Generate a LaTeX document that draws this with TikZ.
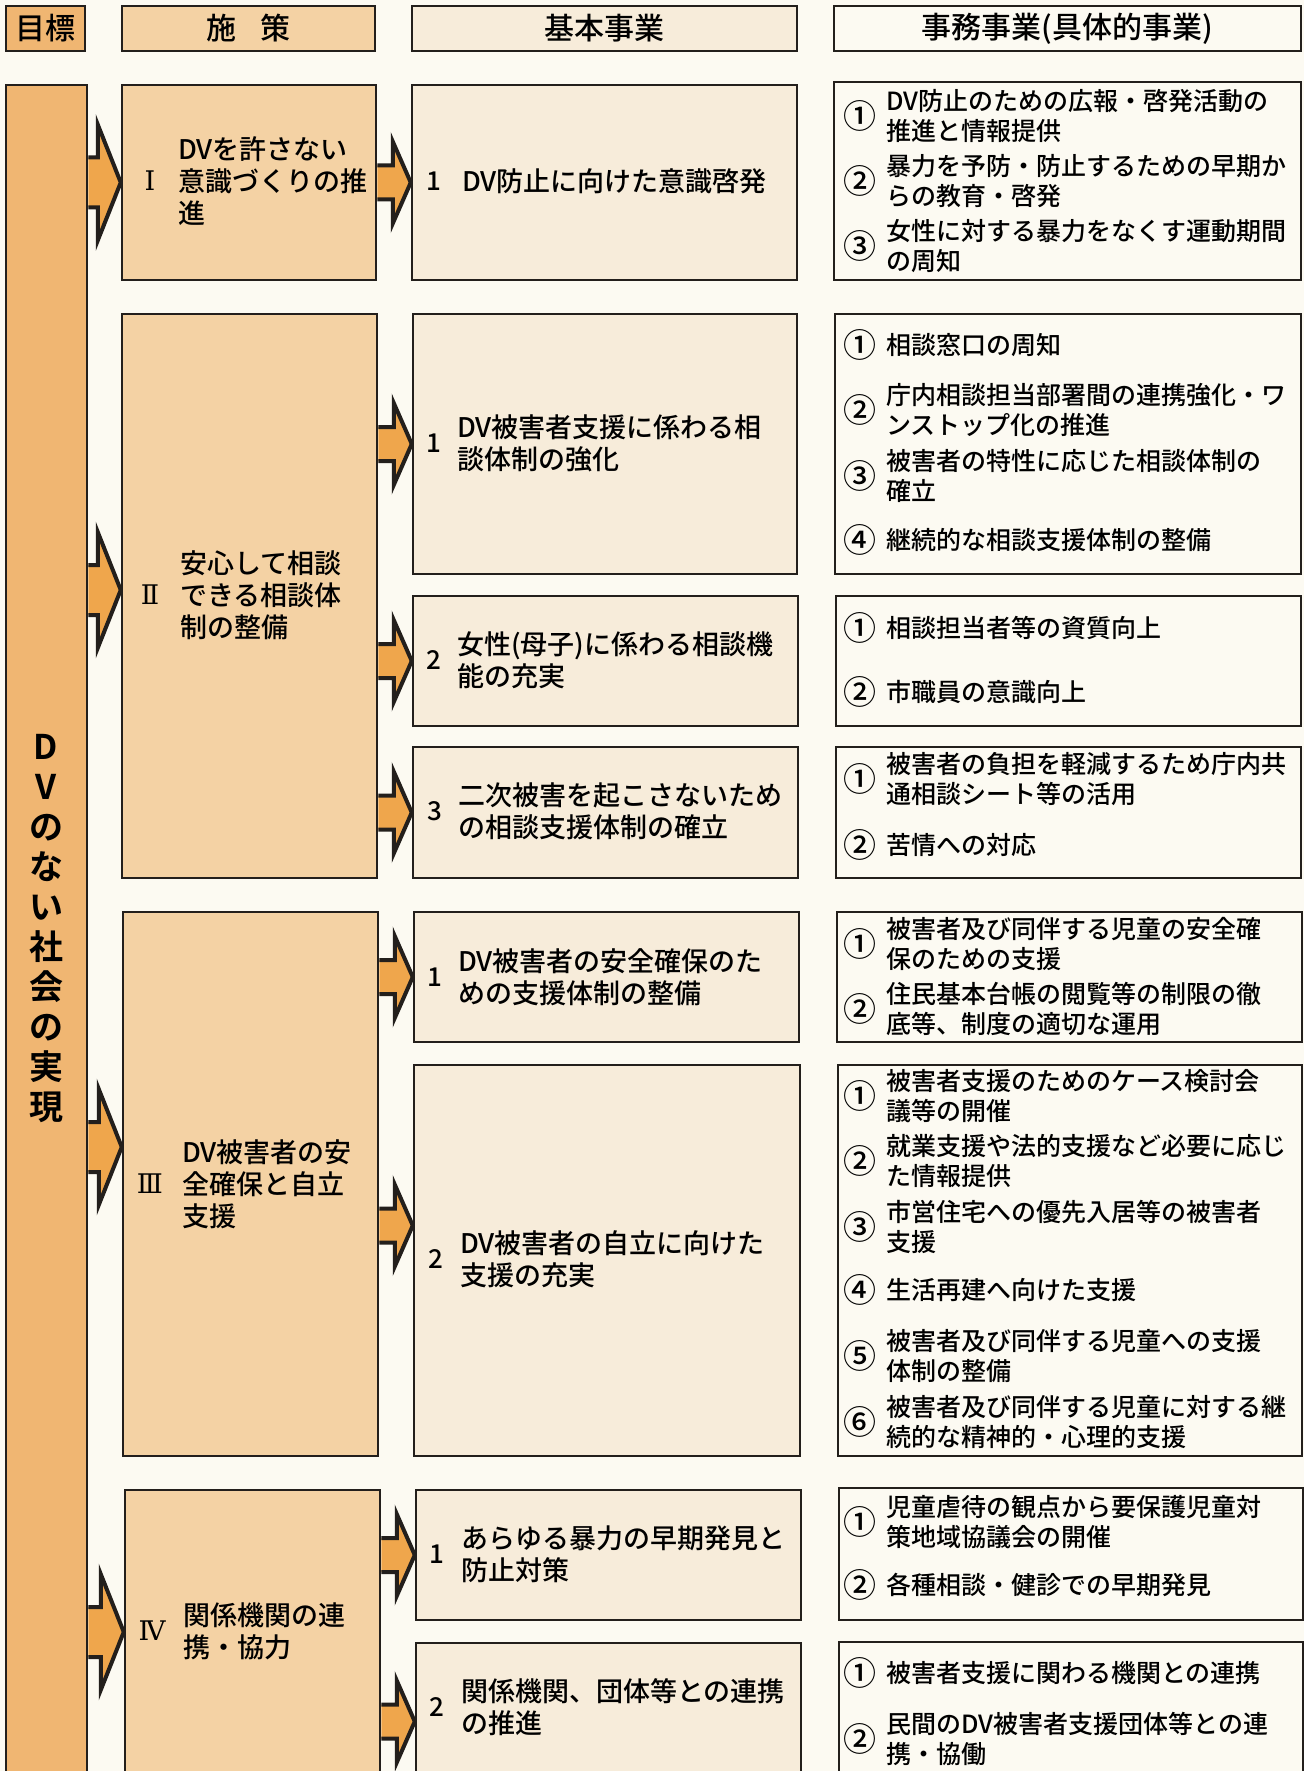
\documentclass[tikz,border=0pt]{standalone}
\usepackage{fontspec}
\setmainfont{Noto Sans CJK JP}[UprightFont={* Medium},BoldFont={* Bold}]
\newfontfamily\romanfont{DejaVu Serif}
\usepackage{tikz}
\usetikzlibrary{calc}

\definecolor{bgcream}{HTML}{FCFAF2}
\definecolor{goalorange}{HTML}{F0B672}
\definecolor{poltan}{HTML}{F4D2A4}
\definecolor{baslight}{HTML}{F7ECDA}
\definecolor{arrorange}{HTML}{EFA64C}
\definecolor{inkline}{HTML}{231F1C}

\tikzset{
	cellbox/.style={draw=inkline,line width=2.5pt,inner sep=0pt},
	goalbox/.style={cellbox,fill=goalorange},
	polbox/.style={cellbox,fill=poltan},
	basbox/.style={cellbox,fill=baslight},
	actbox/.style={cellbox,fill=bgcream},
	headtext/.style={font=\fontsize{30}{34}\selectfont},
	poltext/.style={anchor=west,align=left,inner sep=0pt,font=\fontsize{27}{32}\selectfont},
	acttext/.style={anchor=west,align=left,inner sep=0pt,font=\fontsize{25}{29.5}\selectfont},
	numtext/.style={inner sep=0pt,font=\fontsize{26}{30}\selectfont},
	romtext/.style={inner sep=0pt,font=\romanfont\fontsize{27}{30}\selectfont},
	circtext/.style={inner sep=0pt,font=\fontsize{33}{36}\selectfont},
	fatarr/.style={fill=arrorange,draw=inkline,line width=4pt,line join=miter},
}

% box from (x1,y1) to (x2,y2): name, style, x1, y1, x2, y2
\newcommand{\cell}[6]{\node[#2,minimum width=#5-#3,minimum height=#6-#4] (#1) at ({(#3+#5)/2},{(#4+#6)/2}) {};}
% block arrow: tail, tip, head length, half shaft, half head
\newcommand{\fatarrow}[5]{\filldraw[fatarr] ($(#1)+(0,-#4)$) -- ($(#2)+(-#3,-#4)$) -- ($(#2)+(-#3,-#5)$) -- (#2) -- ($(#2)+(-#3,#5)$) -- ($(#2)+(-#3,#4)$) -- ($(#1)+(0,#4)$);}

\begin{document}
\begin{tikzpicture}[x=1pt,y=-1pt]
	\clip (0,0) rectangle (1304,1771);
	\fill[bgcream] (0,0) rectangle (1304,1771);
	\def\actnum{860} %centre of the circled numbers
	\def\acttx{886} %left edge of the item texts
	
	%HEADERS
	\node[goalbox,headtext,minimum width=79,minimum height=45] (hgoal) at (45.5,28.5) {目標};
	\node[polbox,headtext,minimum width=253,minimum height=45] (hpol) at (248.5,28.5) {施\hspace{0.8em}策};
	\node[basbox,headtext,minimum width=385,minimum height=45] (hbas) at (604.5,28.5) {基本事業};
	\node[actbox,headtext,minimum width=467,minimum height=45] (hact) at (1067.5,28.5) {事務事業(具体的事業)};
	
	%GOAL
	\cell{goal}{goalbox}{6}{85}{87}{1800}
	\node[inner sep=0pt,align=center,font=\bfseries\fontsize{34}{40}\selectfont] (goaltext) at (46,929) {D\\V\\の\\な\\い\\社\\会\\の\\実\\現};
	
	%POLICIES
	\cell{pol1}{polbox}{122}{85}{376}{280}
	\cell{pol2}{polbox}{122}{314}{377}{878}
	\cell{pol3}{polbox}{123}{912}{378}{1456}
	\cell{pol4}{polbox}{125}{1490}{380}{1800}
	
	%BASIC PROJECTS
	\cell{bas11}{basbox}{412}{85}{797}{280}
	\cell{bas21}{basbox}{413}{314}{797}{574}
	\cell{bas22}{basbox}{413}{596}{798}{726}
	\cell{bas23}{basbox}{413}{747}{798}{878}
	\cell{bas31}{basbox}{414}{912}{799}{1042}
	\cell{bas32}{basbox}{414}{1065}{800}{1456}
	\cell{bas41}{basbox}{416}{1490}{801}{1620}
	\cell{bas42}{basbox}{416}{1643}{801}{1800}
	
	%ACTIVITIES
	\cell{act1}{actbox}{834}{82}{1301}{280}
	\cell{act2}{actbox}{835}{314}{1301}{574}
	\cell{act3}{actbox}{836}{596}{1301}{726}
	\cell{act4}{actbox}{836}{747}{1301}{878}
	\cell{act5}{actbox}{837}{912}{1302}{1042}
	\cell{act6}{actbox}{838}{1065}{1302}{1456}
	\cell{act7}{actbox}{839}{1488}{1303}{1620}
	\cell{act8}{actbox}{839}{1642}{1303}{1800}
	
	%ARROWS
	\coordinate (a1) at (pol1.west); \coordinate (a1s) at (goal.east |- a1);
	\coordinate (a2) at ($(pol2.west)+(0,-6)$); \coordinate (a2s) at (goal.east |- a2);
	\coordinate (a3) at ($(pol3.west)+(0,-37)$); \coordinate (a3s) at (goal.east |- a3);
	\coordinate (a4) at ($(pol4.west)+(0,-13)$); \coordinate (a4s) at (goal.east |- a4);
	\fatarrow{a1s}{a1}{23}{25}{58}
	\fatarrow{a2s}{a2}{23}{25}{58}
	\fatarrow{a3s}{a3}{23}{25}{58}
	\fatarrow{a4s}{a4}{23}{25}{58}
	%
	\coordinate (b32) at ($(bas32.west)+(0,-35)$); \coordinate (b32s) at (pol3.east |- b32);
	\coordinate (b11s) at (pol1.east |- bas11.west);
	\coordinate (b21s) at (pol2.east |- bas21.west);
	\coordinate (b22s) at (pol2.east |- bas22.west);
	\coordinate (b23s) at (pol2.east |- bas23.west);
	\coordinate (b31s) at (pol3.east |- bas31.west);
	\coordinate (b41s) at (pol4.east |- bas41.west);
	\coordinate (b42s) at (pol4.east |- bas42.west);
	\fatarrow{b11s}{bas11.west}{18}{17}{41}
	\fatarrow{b21s}{bas21.west}{18}{17}{41}
	\fatarrow{b22s}{bas22.west}{18}{17}{41}
	\fatarrow{b23s}{bas23.west}{18}{17}{41}
	\fatarrow{b31s}{bas31.west}{18}{17}{41}
	\fatarrow{b32s}{b32}{18}{17}{41}
	\fatarrow{b41s}{bas41.west}{18}{17}{41}
	\fatarrow{b42s}{bas42.west}{18}{17}{41}
	
	%POLICY LABELS
	\node[romtext] (pol1n) at (150,181) {Ⅰ};
	\node[poltext] (pol1t) at (178,181) {DVを許さない\\意識づくりの推\\進};
	\node[romtext] (pol2n) at (150,595) {Ⅱ};
	\node[poltext] (pol2t) at (180,595) {安心して相談\\できる相談体\\制の整備};
	\node[romtext] (pol3n) at (150,1184) {Ⅲ};
	\node[poltext] (pol3t) at (182,1184) {DV被害者の安\\全確保と自立\\支援};
	\node[romtext] (pol4n) at (152,1631) {Ⅳ};
	\node[poltext] (pol4t) at (183,1631) {関係機関の連\\携・協力};
	
	%BASIC PROJECT LABELS
	\node[numtext] (bas11n) at (434,181) {1};
	\node[poltext] (bas11t) at (462,181) {DV防止に向けた意識啓発};
	\node[numtext] (bas21n) at (434,443) {1};
	\node[poltext] (bas21t) at (457,443) {DV被害者支援に係わる相\\談体制の強化};
	\node[numtext] (bas22n) at (434,660) {2};
	\node[poltext] (bas22t) at (457,660) {女性(母子)に係わる相談機\\能の充実};
	\node[numtext] (bas23n) at (435,811) {3};
	\node[poltext] (bas23t) at (458,811) {二次被害を起こさないため\\の相談支援体制の確立};
	\node[numtext] (bas31n) at (435,977) {1};
	\node[poltext] (bas31t) at (458,977) {DV被害者の安全確保のた\\めの支援体制の整備};
	\node[numtext] (bas32n) at (436,1259) {2};
	\node[poltext] (bas32t) at (460,1259) {DV被害者の自立に向けた\\支援の充実};
	\node[numtext] (bas41n) at (437,1554) {1};
	\node[poltext] (bas41t) at (461,1554) {あらゆる暴力の早期発見と\\防止対策};
	\node[numtext] (bas42n) at (437,1707) {2};
	\node[poltext] (bas42t) at (461,1707) {関係機関、団体等との連携\\の推進};
	
	%ACTIVITY LABELS
	\node[circtext] (act1an) at (\actnum,116) {①};
	\node[acttext] (act1a) at (\acttx,116) {DV防止のための広報・啓発活動の\\推進と情報提供};
	\node[circtext] (act1bn) at (\actnum,181) {②};
	\node[acttext] (act1b) at (\acttx,181) {暴力を予防・防止するための早期か\\らの教育・啓発};
	\node[circtext] (act1cn) at (\actnum,246) {③};
	\node[acttext] (act1c) at (\acttx,246) {女性に対する暴力をなくす運動期間\\の周知};
	%
	\node[circtext] (act2an) at (\actnum,345) {①};
	\node[acttext] (act2a) at (\acttx,345) {相談窓口の周知};
	\node[circtext] (act2bn) at (\actnum,410) {②};
	\node[acttext] (act2b) at (\acttx,410) {庁内相談担当部署間の連携強化・ワ\\ンストップ化の推進};
	\node[circtext] (act2cn) at (\actnum,476) {③};
	\node[acttext] (act2c) at (\acttx,476) {被害者の特性に応じた相談体制の\\確立};
	\node[circtext] (act2dn) at (\actnum,540) {④};
	\node[acttext] (act2d) at (\acttx,540) {継続的な相談支援体制の整備};
	%
	\node[circtext] (act3an) at (\actnum,628) {①};
	\node[acttext] (act3a) at (\acttx,628) {相談担当者等の資質向上};
	\node[circtext] (act3bn) at (\actnum,692) {②};
	\node[acttext] (act3b) at (\acttx,692) {市職員の意識向上};
	%
	\node[circtext] (act4an) at (\actnum,779) {①};
	\node[acttext] (act4a) at (\acttx,779) {被害者の負担を軽減するため庁内共\\通相談シート等の活用};
	\node[circtext] (act4bn) at (\actnum,845) {②};
	\node[acttext] (act4b) at (\acttx,845) {苦情への対応};
	%
	\node[circtext] (act5an) at (\actnum,944) {①};
	\node[acttext] (act5a) at (\acttx,944) {被害者及び同伴する児童の安全確\\保のための支援};
	\node[circtext] (act5bn) at (\actnum,1009) {②};
	\node[acttext] (act5b) at (\acttx,1009) {住民基本台帳の閲覧等の制限の徹\\底等、制度の適切な運用};
	%
	\node[circtext] (act6an) at (\actnum,1096) {①};
	\node[acttext] (act6a) at (\acttx,1096) {被害者支援のためのケース検討会\\議等の開催};
	\node[circtext] (act6bn) at (\actnum,1161) {②};
	\node[acttext] (act6b) at (\acttx,1161) {就業支援や法的支援など必要に応じ\\た情報提供};
	\node[circtext] (act6cn) at (\actnum,1227) {③};
	\node[acttext] (act6c) at (\acttx,1227) {市営住宅への優先入居等の被害者\\支援};
	\node[circtext] (act6dn) at (\actnum,1290) {④};
	\node[acttext] (act6d) at (\acttx,1290) {生活再建へ向けた支援};
	\node[circtext] (act6en) at (\actnum,1356) {⑤};
	\node[acttext] (act6e) at (\acttx,1356) {被害者及び同伴する児童への支援\\体制の整備};
	\node[circtext] (act6fn) at (\actnum,1422) {⑥};
	\node[acttext] (act6f) at (\acttx,1422) {被害者及び同伴する児童に対する継\\続的な精神的・心理的支援};
	%
	\node[circtext] (act7an) at (\actnum,1522) {①};
	\node[acttext] (act7a) at (\acttx,1522) {児童虐待の観点から要保護児童対\\策地域協議会の開催};
	\node[circtext] (act7bn) at (\actnum,1585) {②};
	\node[acttext] (act7b) at (\acttx,1585) {各種相談・健診での早期発見};
	%
	\node[circtext] (act8an) at (\actnum,1673) {①};
	\node[acttext] (act8a) at (\acttx,1673) {被害者支援に関わる機関との連携};
	\node[circtext] (act8bn) at (\actnum,1739) {②};
	\node[acttext] (act8b) at (\acttx,1739) {民間のDV被害者支援団体等との連\\携・協働};
\end{tikzpicture}
\end{document}
